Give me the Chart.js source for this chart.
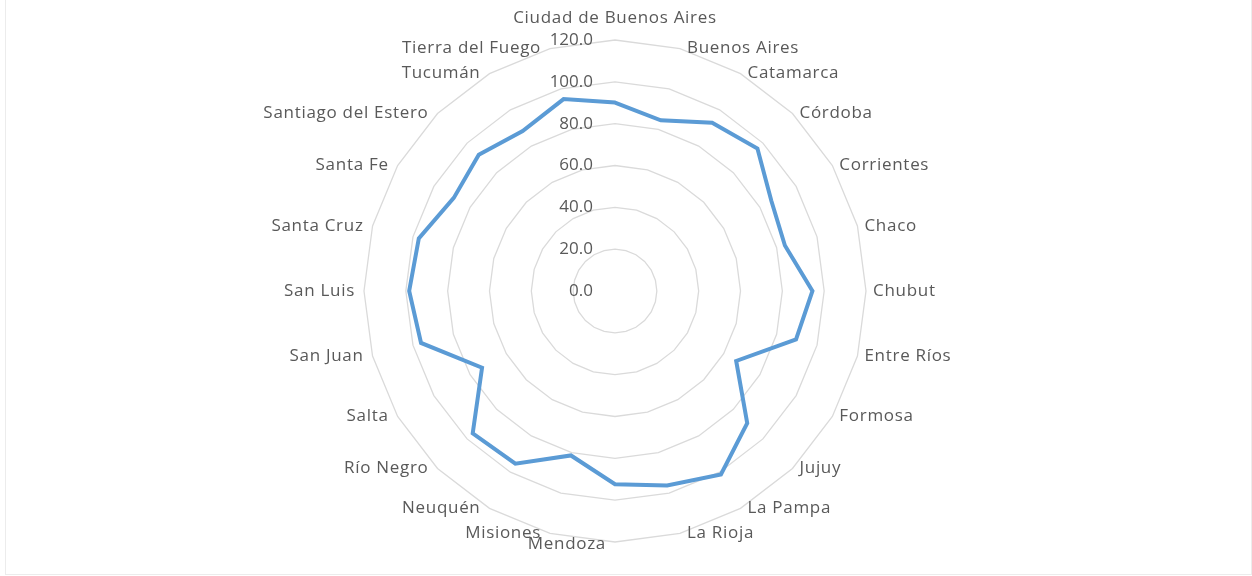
<!DOCTYPE html>
<html>
<head>
<meta charset="utf-8">
<script src="https://cdn.jsdelivr.net/npm/chart.js@4.4.1/dist/chart.umd.min.js"></script>
<style>
  html, body { margin: 0; padding: 0; background: #fff; }
  .frame { position: absolute; left: 5px; top: -2px; width: 1247px; height: 577px; border: 1px solid #ececec; box-sizing: border-box; }
  .wrap { position: absolute; left: 0; top: 0; width: 1252px; height: 576px; }
</style>
</head>
<body>
<div class="frame"></div>
<div class="wrap"><canvas id="myChart"></canvas></div>
<script>
const provinces = [
  "Ciudad de Buenos Aires", "Buenos Aires", "Catamarca", "Córdoba", "Corrientes", "Chaco",
  "Chubut", "Entre Ríos", "Formosa", "Jujuy", "La Pampa", "La Rioja",
  "Mendoza", "Misiones", "Neuquén", "Río Negro", "Salta", "San Juan",
  "San Luis", "Santa Cruz", "Santa Fe", "Santiago del Estero", "Tucumán", "Tierra del Fuego"
];
const values = [
  90.1, 84.5, 92.9, 96.3, 86.3, 84.1,
  94.4, 89.6, 66.9, 89.4, 101.3, 96.3,
  92.4, 81.4, 95.3, 96.2, 73.4, 96.0,
  98.4, 97.1, 89.0, 92.1, 88.3, 95.0
];
const tickValues = [0, 20, 40, 60, 80, 100, 120];

const labelFont = "17px 'Open Sans'";
const textColor = "#595959";

// tick labels sit left of the vertical axis, point labels hug the outer ring
const customLabels = {
  id: "customLabels",
  afterDraw(chart) {
    const scale = chart.scales.r;
    const ctx = chart.ctx;
    ctx.save();
    ctx.font = labelFont;
    ctx.fillStyle = textColor;
    ctx.textBaseline = "middle";

    ctx.textAlign = "right";
    tickValues.forEach((v) => {
      const d = scale.getDistanceFromCenterForValue(v);
      ctx.fillText(v.toFixed(1), scale.xCenter - 22, scale.yCenter - d);
    });

    ctx.letterSpacing = "0.7px";
    const outer = scale.getDistanceFromCenterForValue(120);
    provinces.forEach((name, i) => {
      const p = scale.getPointPosition(i, outer);
      if (i == 0) {
        ctx.textAlign = "center";
        ctx.fillText(name, p.x, p.y - 22);
      } else if (i < provinces.length / 2) {
        ctx.textAlign = "left";
        ctx.fillText(name, p.x + 7, p.y);
      } else {
        ctx.textAlign = "right";
        ctx.fillText(name, p.x - 9, i == 12 ? p.y + 2 : p.y);
      }
    });
    ctx.restore();
  },
};

const ctx = document.getElementById("myChart");
new Chart(ctx, {
  type: "radar",
  data: {
    labels: provinces,
    datasets: [
      {
        data: values,
        borderColor: "#5B9BD5",
        borderWidth: 4,
        backgroundColor: "rgba(0,0,0,0)",
        fill: false,
        pointRadius: 0,
        pointHoverRadius: 0,
        tension: 0,
      },
    ],
  },
  options: {
    responsive: true,
    maintainAspectRatio: false,
    animation: false,
    layout: {
      padding: { top: 40, bottom: 34, left: 0, right: 22 },
    },
    plugins: {
      legend: { display: false },
      tooltip: { enabled: false },
    },
    scales: {
      r: {
        min: 0,
        max: 120,
        ticks: { display: false, stepSize: 20 },
        pointLabels: { display: false },
        angleLines: { display: false },
        grid: { color: "#dadada", lineWidth: 1.3 },
      },
    },
  },
  plugins: [customLabels],
});
</script>
</body>
</html>
